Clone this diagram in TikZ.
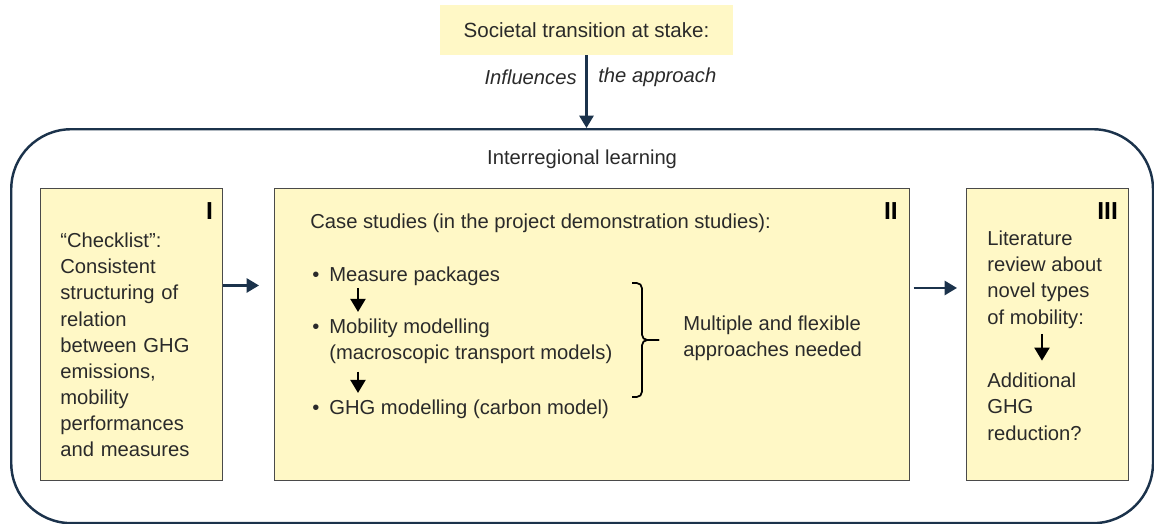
\documentclass[tikz,border=0pt]{standalone}
\usepackage{fontspec}
\setmainfont{Liberation Sans}
\usetikzlibrary{positioning,arrows.meta}
\definecolor{cardfill}{HTML}{FFF8C6}
\definecolor{cardline}{HTML}{4A4A4A}
\definecolor{navy}{HTML}{1B324B}
\definecolor{ink}{HTML}{2A2A2A}

\begin{document}
\begin{tikzpicture}[x=0.02cm, y=-0.02cm,
  font=\fontsize{11.5}{14.8}\selectfont, text=ink,
  card/.style={draw=cardline, fill=cardfill, line width=0.7pt, anchor=north west, inner sep=0pt},
  txt/.style={align=left, anchor=north west, inner sep=0pt},
  numeral/.style={font=\fontsize{14}{14}\selectfont\bfseries, text=black, inner sep=0pt, anchor=north east},
  flow/.style={navy, line width=1.3pt, -{Triangle[length=7pt,width=8pt]}},
  down/.style={black, line width=1.6pt, -{Triangle[length=7.5pt,width=8.5pt]}}]

\useasboundingbox (0,0) rectangle (1154,524);

% frame of the learning process
\node[draw=navy, line width=1.4pt, rounded corners=1.2cm, minimum width=22.84cm,
  minimum height=7.88cm, anchor=north west, inner sep=0pt] (frame) at (10,128) {};
\node[below=0.44cm of frame.north, inner sep=0pt] (learning) {Interregional learning};

% societal transition
\node[fill=cardfill, minimum width=5.86cm, minimum height=1cm, inner sep=0pt,
  font=\fontsize{11.7}{14}\selectfont] (societal) at (586.5,30) {Societal transition at stake:};
\draw[flow] (societal.south) -- (societal.south |- frame.north);
\node[anchor=east, inner sep=0pt, font=\fontsize{11.5}{14}\selectfont\itshape]
  (influences) at ([xshift=-0.19cm, yshift=-0.44cm]societal.south) {Influences};
\node[anchor=west, inner sep=0pt, font=\fontsize{11.5}{14}\selectfont\itshape]
  (approach) at ([xshift=0.23cm, yshift=-0.44cm]societal.south) {the approach};

% I: checklist
\node[card, minimum width=3.64cm, minimum height=5.84cm] (checklist) at (40,188) {};
\node[numeral] (numI) at ([xshift=-0.2cm, yshift=-0.28cm]checklist.north east) {I};
\node[txt, text width=3.2cm] (checktext) at (60,233)
  {``Checklist'':\\ Consistent\\ structuring of\\ relation\\ between GHG\\ emissions,\\ mobility\\ performances\\ and measures};

% II: case studies
\node[card, minimum width=12.7cm, minimum height=5.84cm] (cases) at (274,188) {};
\node[numeral] (numII) at ([xshift=-0.24cm, yshift=-0.28cm]cases.north east) {II};
\node[txt] (casetitle) at (310,214) {Case studies (in the project demonstration studies):};
\node[txt] (measures) at (312,267) {\makebox[0.34cm][l]{\textbullet}Measure packages};
\node[txt] (mobility) at (312,319)
  {\makebox[0.34cm][l]{\textbullet}Mobility modelling\\ \hspace*{0.34cm}(macroscopic transport models)};
\node[txt] (ghg) at (312,400) {\makebox[0.34cm][l]{\textbullet}GHG modelling (carbon model)};
\draw[down, shorten <=1pt, shorten >=4pt] ([xshift=0.92cm]measures.south west) -- ([xshift=0.92cm]mobility.north west);
\draw[down, shorten <=4pt, shorten >=4pt] ([xshift=0.92cm]mobility.south west) -- ([xshift=0.92cm]ghg.north west);

% brace
\coordinate (bracetop) at (632,283);
\coordinate (bracebot) at (632,397);
\coordinate (bracetip) at (659,340);
\draw[black, line width=1pt, rounded corners=3pt] (bracetop) -- ++(10,0) |- (bracetip);
\draw[black, line width=1pt, rounded corners=3pt] (bracebot) -- ++(10,0) |- (bracetip);
\node[txt] (flexible) at (683,316) {Multiple and flexible\\ approaches needed};

% III: literature review
\node[card, minimum width=3.24cm, minimum height=5.84cm] (review) at (966,188) {};
\node[numeral] (numIII) at ([xshift=-0.22cm, yshift=-0.28cm]review.north east) {III};
\node[txt] (novel) at (987,231) {Literature\\ review about\\ novel types\\ of mobility:};
\node[txt] (reduction) at (987,373) {Additional\\ GHG\\ reduction?};
\draw[down, shorten <=3pt, shorten >=7pt] ([xshift=1.1cm]novel.south west) -- ([xshift=1.1cm]reduction.north west);

% flow between the steps
\draw[flow, shorten >=0.3cm] ([yshift=-1.95cm]checklist.north east) -- ([yshift=-1.95cm]cases.north west);
\draw[flow, shorten <=2pt, shorten >=0.18cm] ([yshift=-2cm]cases.north east) -- ([yshift=-2cm]review.north west);
\end{tikzpicture}
\end{document}
